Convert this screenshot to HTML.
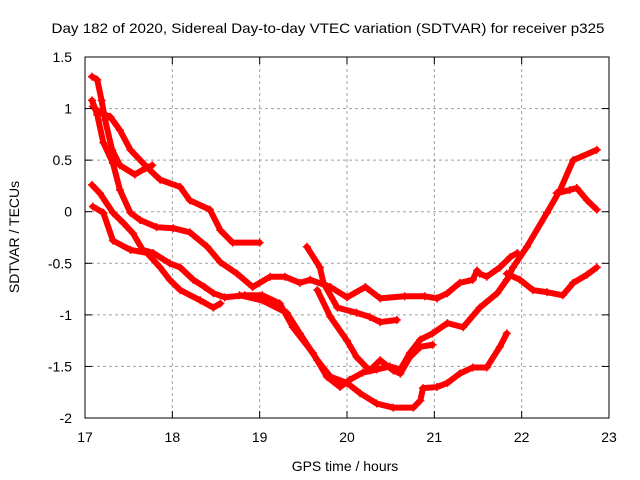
<!DOCTYPE html>
<html><head><meta charset="utf-8"><style>
body{margin:0;background:#fff}
svg{display:block;font-family:"Liberation Sans",sans-serif}
</style></head><body>
<svg width="640" height="480" viewBox="0 0 640 480">
<rect width="640" height="480" fill="#fff"/>
<text x="328" y="33" font-size="14" text-anchor="middle" textLength="553" lengthAdjust="spacingAndGlyphs">Day 182 of 2020, Sidereal Day-to-day VTEC variation (SDTVAR) for receiver p325</text>
<g id="grid"></g>
<g id="series"></g>
<rect x="85" y="57" width="524" height="361" fill="none" stroke="#000" stroke-width="1"/>
<g id="ticks"></g>
<text transform="translate(19,237) rotate(-90)" font-size="14" text-anchor="middle">SDTVAR / TECUs</text>
<text x="345" y="471" font-size="14" text-anchor="middle">GPS time / hours</text>
</svg>
<script>
const xTicks=[17,18,19,20,21,22,23];
const yTicks=[1.5,1,0.5,0,-0.5,-1,-1.5,-2];
const yTickLabels=["1.5","1","0.5","0","-0.5","-1","-1.5","-2"];
const sA=[[17.09,1.02],[17.17,0.96],[17.29,0.92],[17.40,0.79],[17.52,0.60],[17.71,0.43],[17.86,0.31],[18.09,0.24],[18.20,0.11],[18.43,0.02],[18.55,-0.18],[18.69,-0.30],[19.00,-0.30]];
const sB=[[17.08,1.31],[17.14,1.28],[17.19,1.08],[17.23,0.89],[17.31,0.60],[17.40,0.45],[17.57,0.36],[17.69,0.42],[17.77,0.45]];
const sC=[[17.08,1.08],[17.14,0.94],[17.21,0.67],[17.32,0.47],[17.40,0.21],[17.52,-0.01],[17.63,-0.08],[17.82,-0.15],[18.01,-0.16],[18.20,-0.20],[18.40,-0.34],[18.55,-0.49],[18.74,-0.60],[18.92,-0.73],[19.12,-0.63],[19.29,-0.63],[19.46,-0.69],[19.58,-0.66],[19.81,-0.73],[20.00,-0.83],[20.21,-0.73],[20.38,-0.84],[20.66,-0.82],[20.89,-0.82],[21.03,-0.84]];
const sJ=[[21.03,-0.84],[21.15,-0.79],[21.29,-0.69],[21.44,-0.66],[21.49,-0.57],[21.52,-0.60],[21.60,-0.63],[21.75,-0.54],[21.87,-0.44],[21.95,-0.40]];
const sD=[[17.08,0.26],[17.17,0.18],[17.32,-0.01],[17.44,-0.11],[17.55,-0.21],[17.66,-0.37],[17.78,-0.40],[17.97,-0.50],[18.09,-0.54],[18.24,-0.66],[18.37,-0.73],[18.47,-0.79],[18.60,-0.83],[18.83,-0.81],[19.03,-0.81],[19.23,-0.89],[19.38,-1.12],[19.61,-1.37],[19.77,-1.60],[19.92,-1.70],[20.03,-1.63],[20.18,-1.56],[20.34,-1.53],[20.49,-1.50],[20.61,-1.53],[20.72,-1.37],[20.84,-1.24],[20.98,-1.18],[21.15,-1.08],[21.33,-1.12],[21.52,-0.93],[21.72,-0.79],[21.83,-0.66],[21.90,-0.54],[22.06,-0.34],[22.29,-0.01],[22.44,0.21],[22.59,0.50],[22.86,0.60]];
const sE=[[17.09,0.05],[17.21,-0.01],[17.32,-0.28],[17.52,-0.37],[17.71,-0.40],[17.86,-0.54],[17.97,-0.66],[18.09,-0.76],[18.32,-0.86],[18.47,-0.93],[18.55,-0.89]];
const sG=[[18.77,-0.81],[19.03,-0.86],[19.31,-0.98],[19.46,-1.18],[19.66,-1.44],[19.81,-1.60],[20.00,-1.66],[20.15,-1.76],[20.34,-1.86],[20.53,-1.90],[20.76,-1.90],[20.84,-1.83],[20.87,-1.71],[21.03,-1.70],[21.15,-1.66],[21.29,-1.57],[21.44,-1.51],[21.60,-1.51],[21.75,-1.31],[21.83,-1.18]];
const sH=[[19.54,-0.34],[19.69,-0.54],[19.73,-0.69],[19.89,-0.93],[20.11,-0.98],[20.26,-1.02],[20.38,-1.07],[20.57,-1.05]];
const sI=[[19.66,-0.76],[19.81,-1.02],[20.00,-1.25],[20.11,-1.41],[20.26,-1.54],[20.38,-1.44],[20.53,-1.54],[20.61,-1.57],[20.72,-1.41],[20.84,-1.31],[20.98,-1.29]];
const sK=[[21.83,-0.60],[21.98,-0.66],[22.13,-0.76],[22.29,-0.78],[22.47,-0.81],[22.59,-0.69],[22.75,-0.61],[22.86,-0.54]];
const sL=[[22.40,0.18],[22.55,0.21],[22.63,0.23],[22.75,0.11],[22.86,0.02]];
const seriesList=[["satellite-a",sA],["satellite-b",sB],["satellite-c",sC],["satellite-j",sJ],["satellite-d",sD],["satellite-e",sE],["satellite-g",sG],["satellite-h",sH],["satellite-i",sI],["satellite-k",sK],["satellite-l",sL]];
const NS="http://www.w3.org/2000/svg";
const x=h=>85+(h-17)*(524/6);
const y=v=>57+(1.5-v)*(361/3.5);
const grid=document.getElementById('grid'),ticks=document.getElementById('ticks'),ser=document.getElementById('series');
function mk(tag,parent,attrs){const e=document.createElementNS(NS,tag);for(const k in attrs)e.setAttribute(k,attrs[k]);parent.appendChild(e);return e;}
xTicks.forEach(t=>{
  if(t>17&&t<23){const g=mk('line',grid,{x1:x(t),x2:x(t),y1:57,y2:418,stroke:'#a0a0a0','stroke-dasharray':'3,3'});
  
  }
  const a=mk('line',ticks,{x1:x(t),x2:x(t),y1:418,y2:411,stroke:'#000'});
  
  
  const b=mk('line',ticks,{x1:x(t),x2:x(t),y1:57,y2:64,stroke:'#000'});
  
  
  const l=mk('text',ticks,{x:x(t),y:442,'font-size':14,'text-anchor':'middle'});l.textContent=t;
  
  
});
yTicks.forEach((t,i)=>{
  if(t<1.5&&t>-2){const g=mk('line',grid,{x1:85,x2:609,y1:y(t),y2:y(t),stroke:'#a0a0a0','stroke-dasharray':'3,3'});
  
  }
  const a=mk('line',ticks,{x1:85,x2:92,y1:y(t),y2:y(t),stroke:'#000'});
  
  
  const b=mk('line',ticks,{x1:602,x2:609,y1:y(t),y2:y(t),stroke:'#000'});
  
  
  const l=mk('text',ticks,{x:72,y:y(t)+5,'font-size':14,'text-anchor':'end'});l.textContent=yTickLabels[i];
  
  
});
seriesList.forEach(([name,pts])=>{
  const p=mk('polyline',ser,{points:pts.map(d=>x(d[0])+','+y(d[1])).join(' '),fill:'none',stroke:'#ff0000','stroke-width':6,'stroke-linejoin':'round','stroke-linecap':'round'});
  
  
  pts.forEach(d=>{
    const m=mk('path',ser,{d:`M${x(d[0])-4},${y(d[1])}h8M${x(d[0])},${y(d[1])-4}v8`,stroke:'#ff0000','stroke-width':1.5});
    
    
  });
});
</script>
</body></html>
